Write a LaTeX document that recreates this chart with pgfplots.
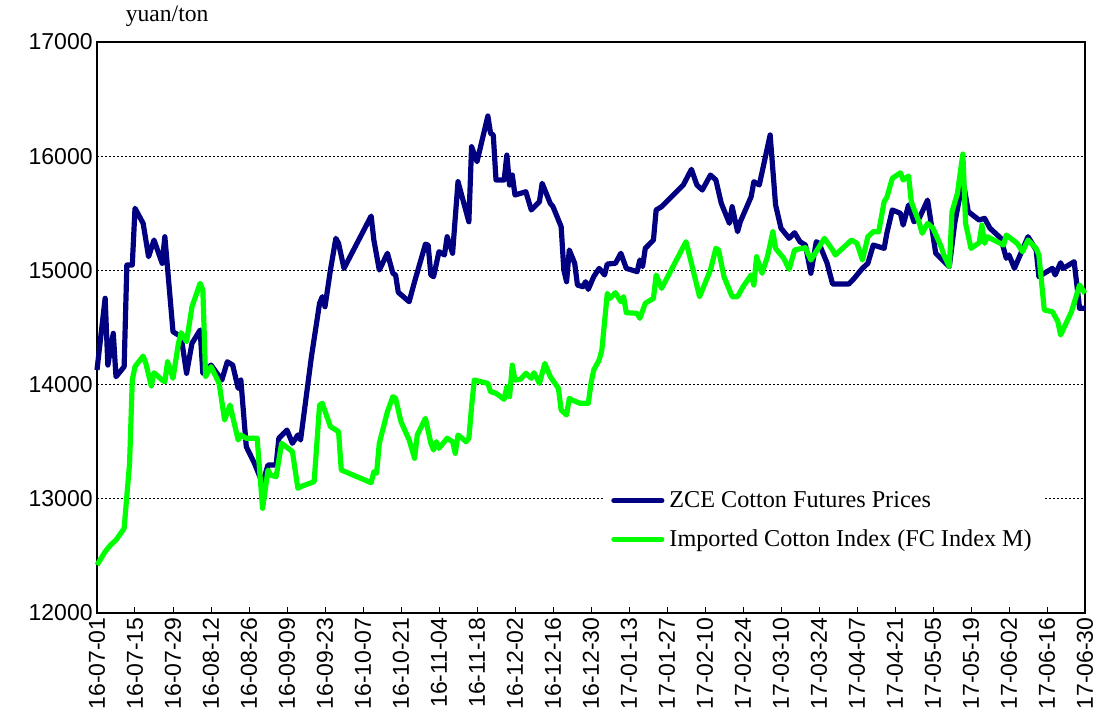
\documentclass[border=0pt]{standalone}
\usepackage{fontspec}
\setmainfont{Liberation Serif}
\newfontfamily\arial{Liberation Sans}
\usepackage{pgfplots}
\pgfplotsset{compat=1.18}
\definecolor{zceblue}{RGB}{0,0,128}
\definecolor{fcgreen}{RGB}{0,255,0}
\begin{document}
\begin{tikzpicture}
\begin{axis}[
  name=ax,
  scale only axis,
  width=494pt, height=285.5pt,
  xmin=0, xmax=364, ymin=12000, ymax=17000,
  xtick={0,14,...,364},
  xticklabels={16-07-01,16-07-15,16-07-29,16-08-12,16-08-26,16-09-09,16-09-23,16-10-07,16-10-21,16-11-04,16-11-18,16-12-02,16-12-16,16-12-30,17-01-13,17-01-27,17-02-10,17-02-24,17-03-10,17-03-24,17-04-07,17-04-21,17-05-05,17-05-19,17-06-02,17-06-16,17-06-30},
  x tick label style={rotate=90, anchor=east, font=\arial\fontsize{11.5}{12}\selectfont},
  ytick={12000,13000,...,17000},
  scaled y ticks=false,
  y tick label style={font=\arial\fontsize{11.5}{12}\selectfont},
  /pgf/number format/fixed,
  /pgf/number format/1000 sep={},
  /pgf/number format/assume math mode=true,
  ytick style={draw=none},
  xtick style={black, line width=0.5pt},
  tick align=inside,
  major tick length=3pt,
  xtick pos=bottom,
  ymajorgrids,
  grid style={black, line width=0.5pt, dash pattern=on 1pt off 1pt},
  axis line style={black, line width=0.6pt},
  tick label style={inner sep=2pt},
  legend style={draw=none, fill=white, at={(rel axis cs:0.514,0.228)}, anchor=north west,
    font=\fontsize{12.1}{13}\selectfont, row sep=9.5pt, inner xsep=3pt, inner ysep=4pt,
    nodes={inner xsep=2.5pt, inner ysep=0pt}},
  legend cell align=left,
  legend image code/.code={\draw[#1, line cap=round] (0pt,0pt) -- (24pt,0pt);},
  clip=false,
]
\addplot[zceblue, line width=2.6pt, line join=round] coordinates {
(0,14128)(3,14756)(4,14171)(6,14449)(7,14069)(10,14157)(11,15047)(13,15047)(14,15544)(17,15412)(19,15120)(21,15266)(24,15062)(25,15295)(28,14463)(31,14419)(33,14099)(35,14362)(38,14478)(39,14099)(42,14171)(46,14040)(48,14200)(50,14171)(52,13967)(53,14040)(55,13456)(58,13311)(61,13136)(63,13296)(66,13296)(67,13530)(70,13602)(72,13486)(74,13559)(75,13515)(79,14244)(82,14712)(83,14770)(84,14682)(86,15003)(88,15281)(89,15237)(91,15018)(101,15476)(102,15266)(104,15003)(107,15150)(109,14975)(110,14960)(111,14808)(115,14726)(117,14901)(121,15230)(122,15222)(123,14960)(124,14945)(126,15164)(128,15135)(129,15295)(131,15150)(133,15777)(137,15426)(138,16083)(140,15952)(144,16352)(145,16200)(146,16186)(147,15792)(150,15792)(151,16010)(152,15748)(153,15835)(154,15660)(158,15689)(160,15529)(163,15602)(164,15763)(167,15587)(168,15558)(171,15383)(172,15003)(173,14901)(174,15179)(176,15062)(177,14872)(179,14857)(180,14901)(181,14834)(183,14945)(185,15018)(187,14960)(188,15056)(191,15062)(193,15150)(195,15018)(199,14989)(200,15091)(201,15033)(202,15193)(205,15266)(206,15529)(208,15558)(216,15748)(219,15885)(221,15748)(223,15704)(226,15835)(228,15792)(230,15587)(233,15412)(234,15558)(236,15339)(237,15426)(241,15645)(242,15777)(244,15748)(248,16186)(250,15573)(252,15369)(255,15281)(257,15330)(259,15251)(261,15222)(263,14975)(265,15251)(266,15237)(269,15062)(271,14881)(277,14881)(279,14931)(282,15018)(284,15062)(286,15222)(290,15193)(291,15325)(293,15529)(296,15500)(297,15397)(299,15573)(301,15426)(303,15460)(306,15616)(309,15150)(314,15033)(316,15412)(319,15792)(321,15514)(325,15441)(327,15456)(329,15369)(333,15281)(335,15106)(336,15135)(338,15018)(343,15295)(346,15179)(347,14945)(349,14975)(352,15018)(353,14960)(355,15067)(356,15018)(360,15076)(362,14668)(364,14668)
};
\addlegendentry{ZCE Cotton Futures Prices}
\addplot[fcgreen, line width=2.6pt, line join=round] coordinates {
(0,12420)(3,12537)(5,12595)(7,12639)(10,12741)(12,13311)(13,14040)(14,14157)(17,14250)(18,14186)(20,13988)(21,14104)(24,14040)(25,14025)(26,14200)(28,14055)(30,14362)(31,14455)(33,14376)(35,14682)(38,14887)(39,14828)(40,14069)(42,14157)(45,14011)(47,13690)(49,13821)(52,13515)(53,13559)(55,13530)(59,13530)(61,12917)(63,13252)(64,13208)(66,13193)(68,13486)(72,13413)(74,13092)(75,13106)(80,13150)(82,13821)(83,13836)(86,13632)(89,13588)(90,13252)(101,13141)(102,13237)(103,13223)(104,13486)(107,13763)(109,13894)(110,13880)(112,13675)(115,13515)(117,13355)(118,13559)(121,13705)(123,13486)(124,13427)(125,13500)(126,13442)(129,13530)(131,13500)(132,13398)(133,13559)(136,13500)(137,13530)(138,13806)(139,14040)(144,14011)(145,13938)(147,13924)(150,13871)(151,13982)(152,13894)(153,14171)(154,14040)(156,14046)(158,14099)(160,14055)(161,14104)(163,14011)(165,14186)(167,14069)(170,13967)(171,13777)(173,13734)(174,13880)(175,13865)(178,13836)(181,13836)(182,14011)(183,14128)(185,14215)(186,14303)(188,14799)(189,14755)(191,14805)(193,14726)(194,14770)(195,14630)(199,14624)(200,14580)(202,14712)(205,14755)(206,14960)(208,14843)(217,15251)(219,15062)(222,14770)(226,15003)(228,15193)(229,15179)(231,14945)(234,14770)(236,14770)(238,14857)(241,14960)(242,14872)(243,15120)(245,14975)(247,15120)(249,15339)(250,15193)(253,15106)(255,15009)(257,15179)(261,15199)(263,15091)(268,15281)(271,15179)(272,15135)(278,15266)(280,15237)(282,15091)(284,15295)(286,15339)(288,15339)(290,15602)(291,15640)(293,15806)(296,15855)(297,15792)(299,15827)(300,15602)(303,15412)(304,15325)(306,15412)(308,15369)(311,15208)(312,15135)(314,15033)(315,15514)(317,15675)(319,16019)(320,15412)(322,15193)(325,15242)(326,15397)(327,15237)(328,15295)(334,15222)(335,15310)(339,15237)(341,15164)(343,15266)(346,15193)(347,15135)(349,14653)(352,14638)(354,14551)(355,14434)(359,14638)(362,14872)(364,14799)
};
\addlegendentry{Imported Cotton Index (FC Index M)}
\node[anchor=base, font=\fontsize{11.8}{13}\selectfont] at ([yshift=10pt]rel axis cs:0.071,1) {yuan/ton};
\end{axis}
\pgfresetboundingbox
\path ([xshift=-48.5pt,yshift=-52.5pt]ax.south west) rectangle ([xshift=8.5pt,yshift=21pt]ax.north east);
\end{tikzpicture}
\end{document}
